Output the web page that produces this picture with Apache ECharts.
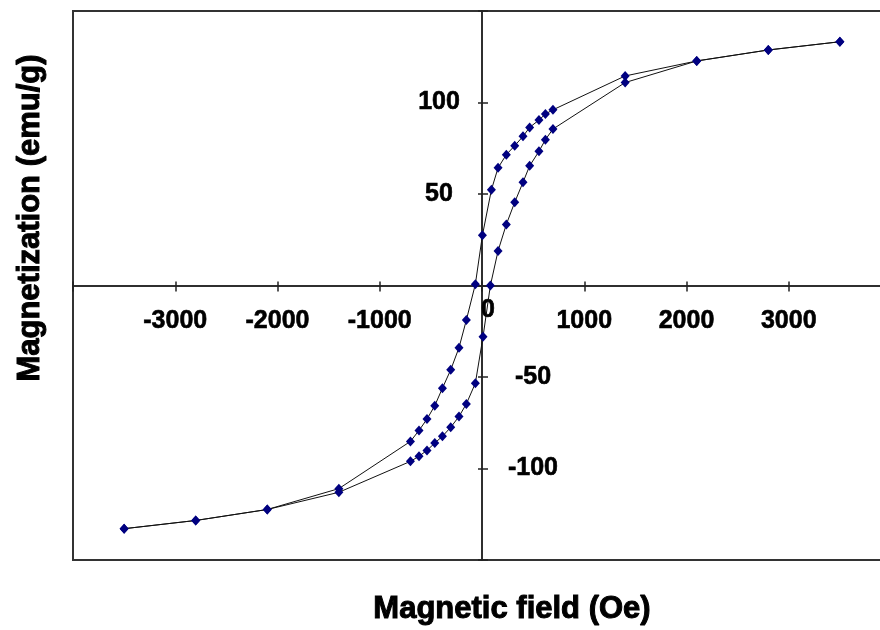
<!DOCTYPE html>
<html>
<head>
<meta charset="utf-8">
<title>Magnetization loop</title>
<script src="https://cdn.jsdelivr.net/npm/echarts@6/dist/echarts.min.js"></script>
<style>
	html, body { margin: 0; padding: 0; background: #fff; }
	#chart { width: 880px; height: 630px; }
</style>
</head>
<body>
<div id="chart"></div>
<script>
// 下降支：+3500 Oe -> -3500 Oe（上面那条曲线）
const descField = [3500, 2800, 2100, 1400, 694, 620, 557, 466, 401, 320, 238, 157, 92, 4, -65, -153, -225, -306, -387, -462, -538, -616, -700, -1400, -2100, -2800, -3500];
const descMag = [133.2, 128.7, 122.7, 114.5, 96.0, 93.7, 90.4, 86.4, 81.5, 76.4, 71.5, 64.3, 52.3, 27.4, 0.7, -18.9, -34.0, -46.1, -56.1, -65.7, -73.0, -79.2, -85.2, -111.0, -122.4, -128.4, -132.9];

// 上升支：-3500 Oe -> +3500 Oe
const ascField = [-3500, -2800, -2100, -1400, -700, -616, -538, -462, -387, -306, -225, -153, -65, 10, 82, 157, 238, 320, 401, 466, 557, 620, 694, 1400, 2100, 2800, 3500];
const ascMag = [-132.9, -128.4, -122.4, -113.0, -96.1, -93.3, -90.1, -86.1, -82.4, -77.5, -71.6, -64.7, -53.4, -28.0, 0, 18.9, 33.4, 45.5, 56.4, 65.4, 73.3, 79.7, 85.5, 110.9, 122.7, 128.7, 133.2];

// 刻度标签
const xTicks = [-3000, -2000, -1000, 0, 1000, 2000, 3000];
const yLeftTicks = [50, 100];
const yRightTicks = [-50, -100];

const labelFont = {
	fontFamily: '"Liberation Sans", Arial, sans-serif', fontWeight: 'bold', fontSize: 25, color: '#000',
	textBorderColor: '#000', textBorderWidth: 0.6
};
const titleFont = 'bold 31px "Liberation Sans", Arial, sans-serif';
const axisColor = '#222';

// 绘图区（右边超出画布，和原图一样被裁掉）
const gridBox = { left: 73, top: 11, width: 818, height: 549 };
// 坐标范围对称，所以 0 在绘图区正中：用 offset 把坐标轴移过去
const xAxisOffset = -gridBox.height / 2;
const yAxisOffset = -gridBox.width / 2;

const chartInstance = echarts.init(document.getElementById('chart'), null, { renderer: 'canvas' });

const toPairs = (xs, ys) => xs.map((x, i) => [x, ys[i]]);

const axisLine = { onZero: false, lineStyle: { color: axisColor, width: 1.5 } };
const baseX = {
	type: 'value', min: -4000, max: 4000, interval: 1000,
	position: 'bottom', offset: xAxisOffset,
	axisLine: axisLine,
	splitLine: { show: false }
};
const baseY = {
	type: 'value', min: -150, max: 150, interval: 50,
	position: 'left', offset: yAxisOffset,
	axisLine: axisLine,
	splitLine: { show: false }
};

const option = {
	animation: false,
	backgroundColor: '#fff',
	grid: { ...gridBox, show: true, borderColor: '#333', borderWidth: 2, outerBoundsMode: 'none', containLabel: false },
	xAxis: [
		{
			...baseX,
			axisTick: { length: 6, lineStyle: { color: axisColor, width: 1.5 } },
			axisLabel: {
				margin: 12,
				formatter: v => xTicks.includes(v) ? (v === 0 ? '{z|0}' : '{n|' + v + '}') : '',
				rich: {
					n: { ...labelFont, padding: [11, 0, 0, 0] },
					z: { ...labelFont, padding: [0, 0, 0, 12] }
				}
			}
		},
		{
			// 只用来画交叉刻度的内侧部分
			...baseX,
			axisTick: { inside: true, length: 4, lineStyle: { color: axisColor, width: 1.5 } },
			axisLabel: { show: false }
		}
	],
	yAxis: [
		{
			...baseY,
			axisTick: { inside: true, length: 6, lineStyle: { color: axisColor, width: 1.5 } },
			axisLabel: {
				...labelFont, margin: 43, align: 'center',
				formatter: v => yLeftTicks.includes(v) ? String(v) : ''
			}
		},
		{
			...baseY,
			axisTick: { inside: false, length: 4, lineStyle: { color: axisColor, width: 1.5 } },
			axisLabel: {
				...labelFont, inside: true, margin: 51, align: 'center',
				formatter: v => yRightTicks.includes(v) ? String(v) : ''
			}
		}
	],
	series: [
		{
			name: 'descending', type: 'line',
			data: toPairs(descField, descMag),
			symbol: 'diamond', symbolSize: [9, 10],
			itemStyle: { color: '#000080' },
			lineStyle: { color: '#111', width: 1 }
		},
		{
			name: 'ascending', type: 'line',
			data: toPairs(ascField, ascMag),
			symbol: 'diamond', symbolSize: [9, 10],
			itemStyle: { color: '#000080' },
			lineStyle: { color: '#111', width: 1 }
		}
	],
	graphic: [
		{
			type: 'text', x: 512, y: 609,
			style: { text: 'Magnetic field (Oe)', font: titleFont, fill: '#000', stroke: '#000', lineWidth: 1, textAlign: 'center', textVerticalAlign: 'middle' }
		},
		{
			type: 'text', x: 30, y: 218, rotation: Math.PI / 2,
			style: { text: 'Magnetization (emu/g)', font: titleFont, fill: '#000', stroke: '#000', lineWidth: 1, textAlign: 'center', textVerticalAlign: 'middle' }
		}
	]
};

chartInstance.setOption(option);
</script>
</body>
</html>
